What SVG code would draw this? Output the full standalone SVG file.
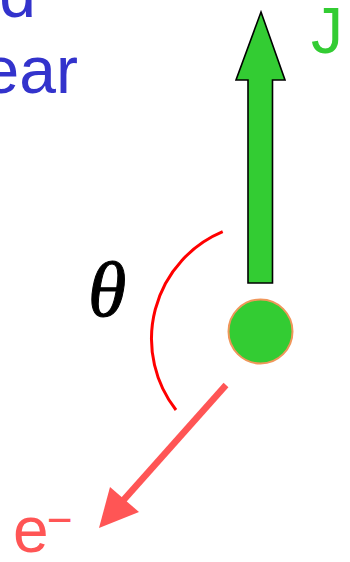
<svg xmlns="http://www.w3.org/2000/svg" width="350" height="562" viewBox="0 0 350 562">
<style>
.blue{fill:#3333cc;font-family:"Liberation Sans",Arial,sans-serif;font-size:66px}
.green{fill:#33cc33;font-family:"Liberation Sans",Arial,sans-serif;font-size:64px}
.red{fill:#ff5555;font-family:"Liberation Sans",Arial,sans-serif}
.theta{fill:#000;stroke:#000;stroke-width:1;font-family:"Liberation Serif","Times New Roman",serif;font-style:italic;font-size:78px}
</style>
<rect width="350" height="562" fill="#fff"/>
<g id="label-top">
<text class="blue" x="36" y="17" text-anchor="end">d</text>
<text class="blue" x="78" y="93" text-anchor="end">ear</text>
</g>
<g id="J-arrow">
<polygon points="261,12 285,80 272.5,80 272.5,283 248,283 248,80 236,80" fill="#33cc33" stroke="#000" stroke-width="1.6" stroke-linejoin="miter"/>
<text class="green" x="311" y="53">J</text>
</g>
<g id="nucleus">
<circle cx="260.5" cy="331.5" r="32" fill="#33cc33" stroke="#f0965a" stroke-width="2"/>
</g>
<g id="angle">
<path d="M222.7,231.7 A116,116 0 0 0 176,410" fill="none" stroke="#ff0000" stroke-width="3"/>
<text class="theta" x="88" y="316">θ</text>
</g>
<g id="connectors">
<line x1="226" y1="385" x2="120" y2="504" stroke="#ff5555" stroke-width="6.5"/>
<polygon points="99,528 110,487 139,512" fill="#ff5555"/>
</g>
<g id="electron-label">
<text class="red" x="13" y="552" font-size="64">e</text>
<text class="red" x="47" y="535" font-size="44">−</text>
</g>
</svg>
